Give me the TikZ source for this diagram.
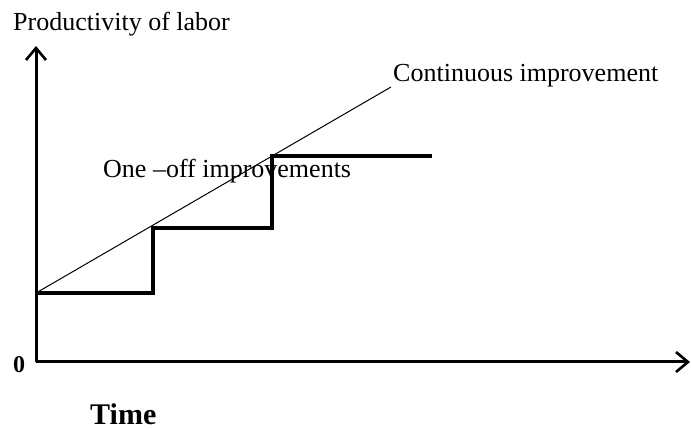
\documentclass[tikz,border=0pt]{standalone}
\usepackage{fontspec}
\setmainfont{Liberation Serif}
\usetikzlibrary{arrows.meta}
\begin{document}
\begin{tikzpicture}[x=1pt,y=-1pt,
  axis/.style={line width=3pt,-{Straight Barb[length=12pt,width=20pt,line width=2.6pt]}},
  stepline/.style={line width=3.2pt,line join=miter},
  trend/.style={line width=1pt},
  lbl/.style={inner sep=0pt,anchor=base west,font=\fontsize{26}{30}\selectfont},
  blbl/.style={inner sep=0pt,anchor=base west,font=\bfseries\fontsize{30}{34}\selectfont}]
\useasboundingbox (0,0) rectangle (691,430);
% axes
\coordinate (O) at (36,362);
\coordinate (ytip) at (36,46);
\coordinate (xtip) at (690,362);
\draw[axis] (O) -- (ytip);
\draw[axis] (O) -- (xtip);
% step function
\coordinate (s0) at (36,293);
\coordinate (s1) at (153,293);
\coordinate (s2) at (153,228);
\coordinate (s3) at (272,228);
\coordinate (s4) at (272,156);
\coordinate (s5) at (432,156);
\draw[stepline] (s0) -- (s1) -- (s2) -- (s3) -- (s4) -- (s5);
% continuous line
\coordinate (cend) at (391,87);
\draw[trend] (s0) -- (cend);
% labels
\node[lbl] (ylab) at (13,31) {Productivity of labor};
\node[lbl] (clab) at (393,82) {Continuous improvement};
\node[lbl] (olab) at (103,178) {One –off improvements};
\node[inner sep=0pt,anchor=base west,font=\bfseries\fontsize{24}{28}\selectfont] (zero) at (13,373) {0};
\node[blbl] (tlab) at (90,424) {Time};
\end{tikzpicture}
\end{document}
